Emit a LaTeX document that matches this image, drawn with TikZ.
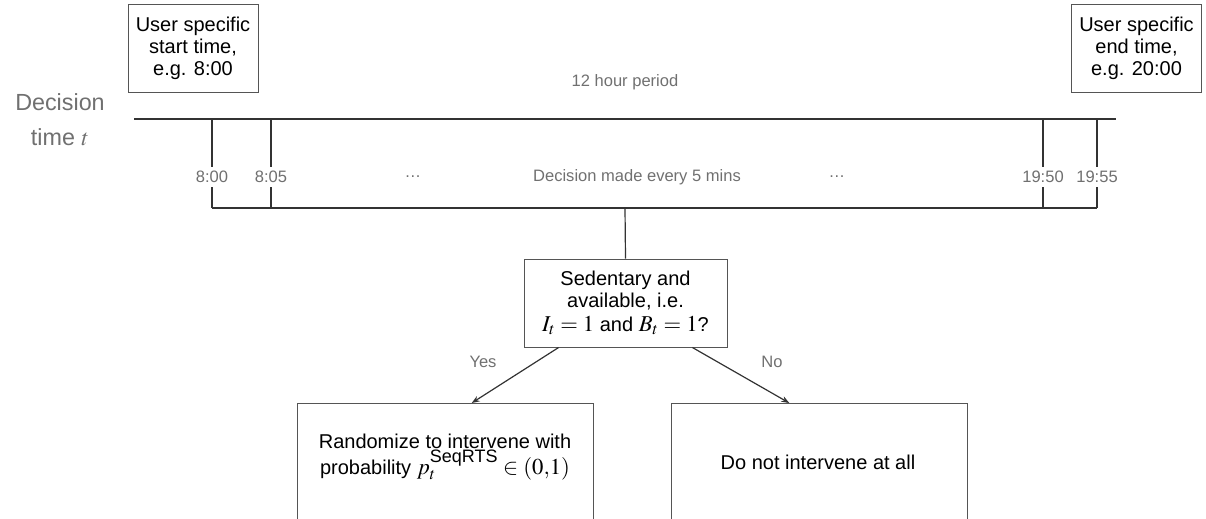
\documentclass[tikz,border=0pt]{standalone}
\usepackage{mathptmx}
\usepackage{fontspec}
\setmainfont{Liberation Sans}
\usetikzlibrary{arrows.meta,calc}
\definecolor{lbl}{HTML}{707070}
\definecolor{ln}{HTML}{333333}
\definecolor{bd}{HTML}{555555}
\tikzset{
  tbox/.style={draw=bd, line width=0.75pt, align=center, font=\fontsize{15}{16.5}\selectfont, inner sep=0pt},
  glabel/.style={text=lbl, font=\fontsize{12.4}{14}\selectfont},
  ticklbl/.style={glabel, fill=white, inner xsep=1pt, inner ysep=3.2pt},
  conn/.style={draw=ln, line width=0.9pt},
  arr/.style={conn, -{Stealth[length=6pt,width=4.5pt]}},
}
\begin{document}
\begin{tikzpicture}[x=0.75pt,y=-0.75pt]
\useasboundingbox (0,0) rectangle (1206,518);
\clip (0,0) rectangle (1206,518);

% header boxes
\node[tbox, minimum width=97.5pt, minimum height=66pt] (start) at (193,48) {User specific\\start time,\\e.g. 8:00};
\node[tbox, minimum width=98pt, minimum height=66pt] (finish) at (1136.5,48) {User specific\\end time,\\e.g. 20:00};
\node[glabel] (period) at (625,82) {12 hour period};
\node[text=lbl, align=center, font=\fontsize{17.5}{26}\selectfont] (dtime) at (60,120) {Decision\\time $t$};

% timeline
\coordinate (tl) at (134,119);
\coordinate (tr) at (1116,119);
\draw[conn] (tl) -- (tr);

\coordinate (a1) at (212,119); \coordinate (b1) at (212,208);
\coordinate (a2) at (271,119); \coordinate (b2) at (271,208);
\coordinate (a3) at (1043,119); \coordinate (b3) at (1043,208);
\coordinate (a4) at (1097,119); \coordinate (b4) at (1097,208);
\coordinate (mid) at (625,208);

\draw[conn] (a1) -- (b1);
\draw[conn] (a2) -- (b2);
\draw[conn] (a3) -- (b3);
\draw[conn] (a4) -- (b4);
\draw[conn] (b1) -- (b4);

\node[ticklbl] (l1) at (212,177) {8:00};
\node[ticklbl] (l2) at (271,177) {8:05};
\node[ticklbl] (l3) at (1043,177) {19:50};
\node[ticklbl] (l4) at (1097,177) {19:55};
\node[glabel] (dots1) at (413,177) {\dots};
\node[glabel] (every) at (637,177) {Decision made every 5 mins};
\node[glabel] (dots2) at (837,177) {\dots};

% decision box
\node[tbox, minimum width=152.25pt, minimum height=66pt] (dec) at (625.5,303)
  {Sedentary and\\available, i.e.\\[1pt]{\fontsize{17}{18}\selectfont$I_t = 1$} and {\fontsize{17}{18}\selectfont$B_t = 1$}?};
\draw[conn] (mid) -- (dec.north);

% outcome boxes
\node[tbox, anchor=north, minimum width=222pt, minimum height=112pt] (yesbox) at (445,403) {};
\node[tbox, anchor=north, minimum width=222pt, minimum height=112pt] (nobox) at (819,403) {};
\node[align=center, font=\fontsize{15}{18}\selectfont] (yestxt) at (445,457)
  {Randomize to intervene with\\probability {\fontsize{17}{18}\selectfont$p_t^{\textrm{\fontsize{13.5}{14}\selectfont SeqRTS}} \in (0{,}1)$}};
\node[font=\fontsize{15}{17.5}\selectfont] (notxt) at (818,462) {Do not intervene at all};

\draw[arr] ($(dec.south west)!0.172!(dec.south east)$) -- ($(yesbox.north west)!0.59!(yesbox.north east)$);
\draw[arr] ($(dec.south west)!0.828!(dec.south east)$) -- ($(nobox.north west)!0.40!(nobox.north east)$);
\node[glabel] (yes) at (483,362) {Yes};
\node[glabel] (no) at (772,362) {No};
\end{tikzpicture}
\end{document}
